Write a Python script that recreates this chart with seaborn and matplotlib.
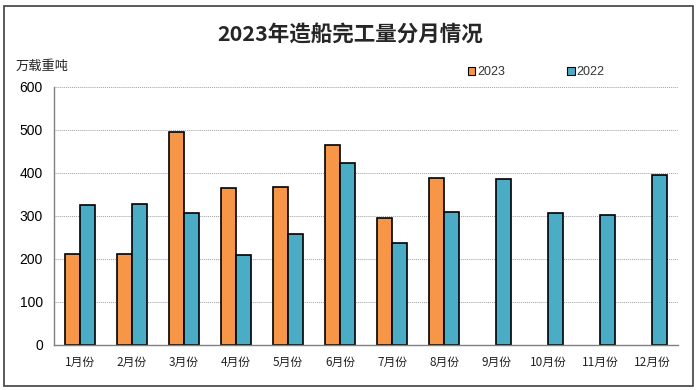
import pandas as pd
import numpy as np
import matplotlib
matplotlib.use("Agg")
import matplotlib.pyplot as plt
from matplotlib.patches import Rectangle, Patch
import seaborn as sns

months = ["1月份", "2月份", "3月份", "4月份", "5月份", "6月份",
          "7月份", "8月份", "9月份", "10月份", "11月份", "12月份"]
y2023 = [212, 212, 494, 364, 368, 465, 296, 389, np.nan, np.nan, np.nan, np.nan]
y2022 = [325, 327, 307, 210, 257, 422, 236, 309, 386, 307, 303, 396]
series = ["2023", "2022"]
colors = ["#F79646", "#4BACC6"]

df = pd.DataFrame({
    "month": months * 2,
    "value": y2023 + y2022,
    "year": [series[0]] * 12 + [series[1]] * 12,
})

sns.set_theme(style="white")
plt.rcParams["font.family"] = ["Liberation Sans", "Noto Sans CJK SC", "DejaVu Sans"]

fig = plt.figure(figsize=(7, 3.9), dpi=100)
ax = fig.add_axes([0.077, 0.1154, 0.892, 0.662])

sns.barplot(data=df, x="month", y="value", hue="year", hue_order=series,
            palette=colors, saturation=1, width=0.58, gap=0, edgecolor="black",
            linewidth=1.2, ax=ax, legend=False)

ax.set_ylim(0, 600)
ax.set_yticks(range(0, 601, 100))
ax.set_xlim(-0.5, 11.5)
ax.set_xlabel("")
ax.set_ylabel("")
ax.yaxis.grid(True, linestyle=(0, (1, 1)), color="#a0a0a0", linewidth=0.7)
ax.set_axisbelow(True)
for s in ["top", "right"]:
    ax.spines[s].set_visible(False)
for s in ["left", "bottom"]:
    ax.spines[s].set_color("#808080")
    ax.spines[s].set_linewidth(1.0)
ax.tick_params(axis="y", labelsize=10, length=0, pad=8, colors="black")
ax.tick_params(axis="x", labelsize=8.5, length=0, pad=8, colors="#222222")
for lab in ax.get_xticklabels():
    lab.set_family(["Noto Sans CJK SC", "DejaVu Sans"])
ax.set_xticks(np.arange(-0.5, 12, 1), minor=True)
ax.tick_params(axis="x", which="minor", direction="in", length=3,
               color="#808080", width=0.8)

fig.text(0.5, 0.91, "2023年造船完工量分月情况", ha="center", va="center",
         fontsize=15.5, fontweight="bold",
         family=["Noto Sans CJK SC", "DejaVu Sans"])
fig.text(0.022, 0.83, "万载重吨", ha="left", va="center", fontsize=9.5,
         family=["Noto Sans CJK SC", "DejaVu Sans"])

handles = [Patch(facecolor=c, edgecolor="black", linewidth=0.8) for c in colors]
fig.legend(handles, series, loc="center left", bbox_to_anchor=(0.652, 0.815),
           ncol=2, frameon=False, fontsize=9, handlelength=0.6,
           handleheight=0.6, handletextpad=0.15, columnspacing=5.0,
           labelcolor="#333333")

fig.patches.append(Rectangle((0.006, 0.01), 0.984, 0.975, transform=fig.transFigure,
                             fill=False, edgecolor="#404040", linewidth=1.2))

plt.savefig("out.png", dpi=100)
